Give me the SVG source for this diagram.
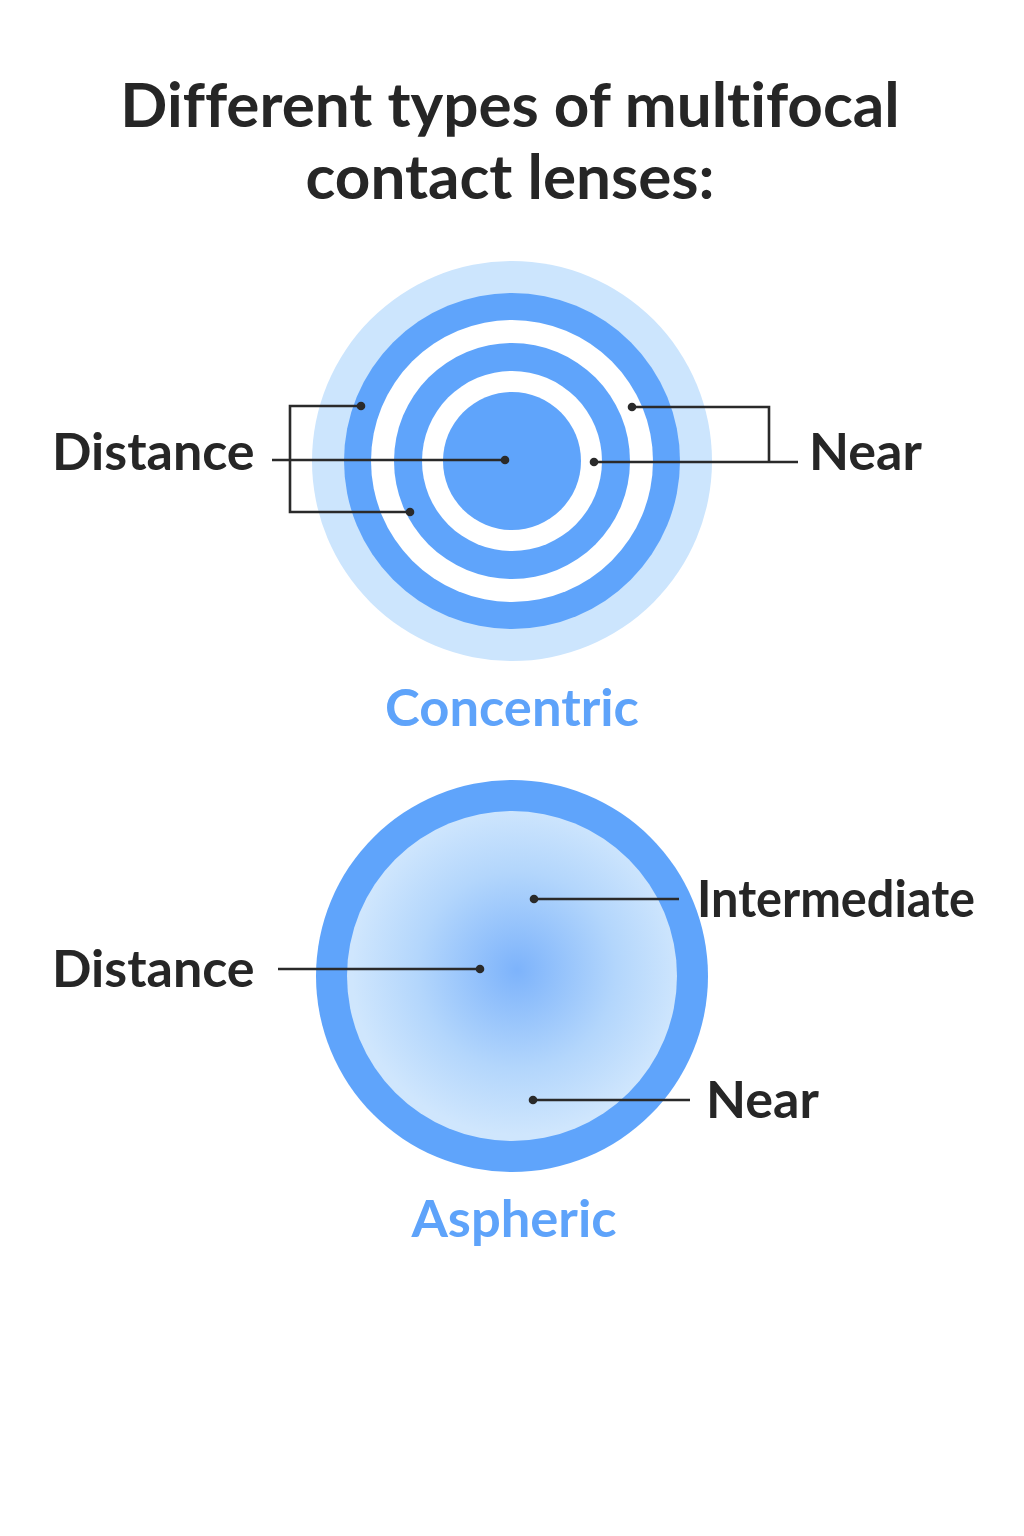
<svg xmlns="http://www.w3.org/2000/svg" width="1024" height="1536" viewBox="0 0 1024 1536">
<style>
text{font-variant-ligatures:none}
.title{font-family:Lato,"Open Sans","Liberation Sans",sans-serif;font-weight:bold;font-size:62px;fill:#262626;text-anchor:middle}
.lbl{font-family:Lato,"Open Sans","Liberation Sans",sans-serif;font-weight:bold;font-size:52px;fill:#262626}
.cap{font-family:Lato,"Open Sans","Liberation Sans",sans-serif;font-weight:bold;font-size:52.5px;fill:#5ea3fa;text-anchor:middle}
.ld{fill:none;stroke:#2a2a2a;stroke-width:2.6}
.dot{fill:#2a2a2a}
</style>
<defs>
<radialGradient id="asph" cx="517" cy="970" r="165" gradientUnits="userSpaceOnUse">
<stop offset="0" stop-color="#7db3fb"/>
<stop offset="0.6" stop-color="#b3d6fc"/>
<stop offset="1" stop-color="#cfe6fd"/>
</radialGradient>
</defs>
<rect width="1024" height="1536" fill="#ffffff"/>
<g id="title">
<text class="title" x="510" y="127">Different types of multifocal</text>
<text class="title" x="510" y="199">contact lenses:</text>
</g>
<g id="concentric-lens">
<circle cx="512" cy="461" r="200" fill="#cce5fd"/>
<circle cx="512" cy="461" r="168" fill="#5fa4fb"/>
<circle cx="512" cy="461" r="141" fill="#ffffff"/>
<circle cx="512" cy="461" r="118" fill="#5fa4fb"/>
<circle cx="512" cy="461" r="90" fill="#ffffff"/>
<circle cx="512" cy="461" r="69" fill="#5fa4fb"/>
</g>
<g id="concentric-labels">
<text class="lbl" x="52" y="470">Distance</text>
<text class="lbl" x="809" y="470">Near</text>
<text class="cap" x="512" y="726">Concentric</text>
</g>
<g id="aspheric-lens">
<circle cx="512" cy="976" r="196" fill="#5fa4fb"/>
<circle cx="512" cy="976" r="165" fill="url(#asph)"/>
</g>
<g id="aspheric-labels">
<text class="lbl" x="52" y="987">Distance</text>
<text class="lbl" x="697" y="917" textLength="278" lengthAdjust="spacingAndGlyphs">Intermediate</text>
<text class="lbl" x="706" y="1118">Near</text>
<text class="cap" x="514" y="1237">Aspheric</text>
</g>
<g id="connectors">
<path class="ld" d="M361 406 H290 V512 H410"/>
<path class="ld" d="M272 460 H505"/>
<path class="ld" d="M632 407 H769 V461"/>
<path class="ld" d="M594 462 H798"/>
<circle class="dot" cx="361" cy="406" r="4.3"/>
<circle class="dot" cx="410" cy="512" r="4.3"/>
<circle class="dot" cx="505" cy="460" r="4.3"/>
<circle class="dot" cx="632" cy="407" r="4.3"/>
<circle class="dot" cx="594" cy="462" r="4.3"/>
<path class="ld" d="M534 899 H679"/>
<path class="ld" d="M278 969 H480"/>
<path class="ld" d="M533 1100 H690"/>
<circle class="dot" cx="534" cy="899" r="4.3"/>
<circle class="dot" cx="480" cy="969" r="4.3"/>
<circle class="dot" cx="533" cy="1100" r="4.3"/>
</g>
</svg>
